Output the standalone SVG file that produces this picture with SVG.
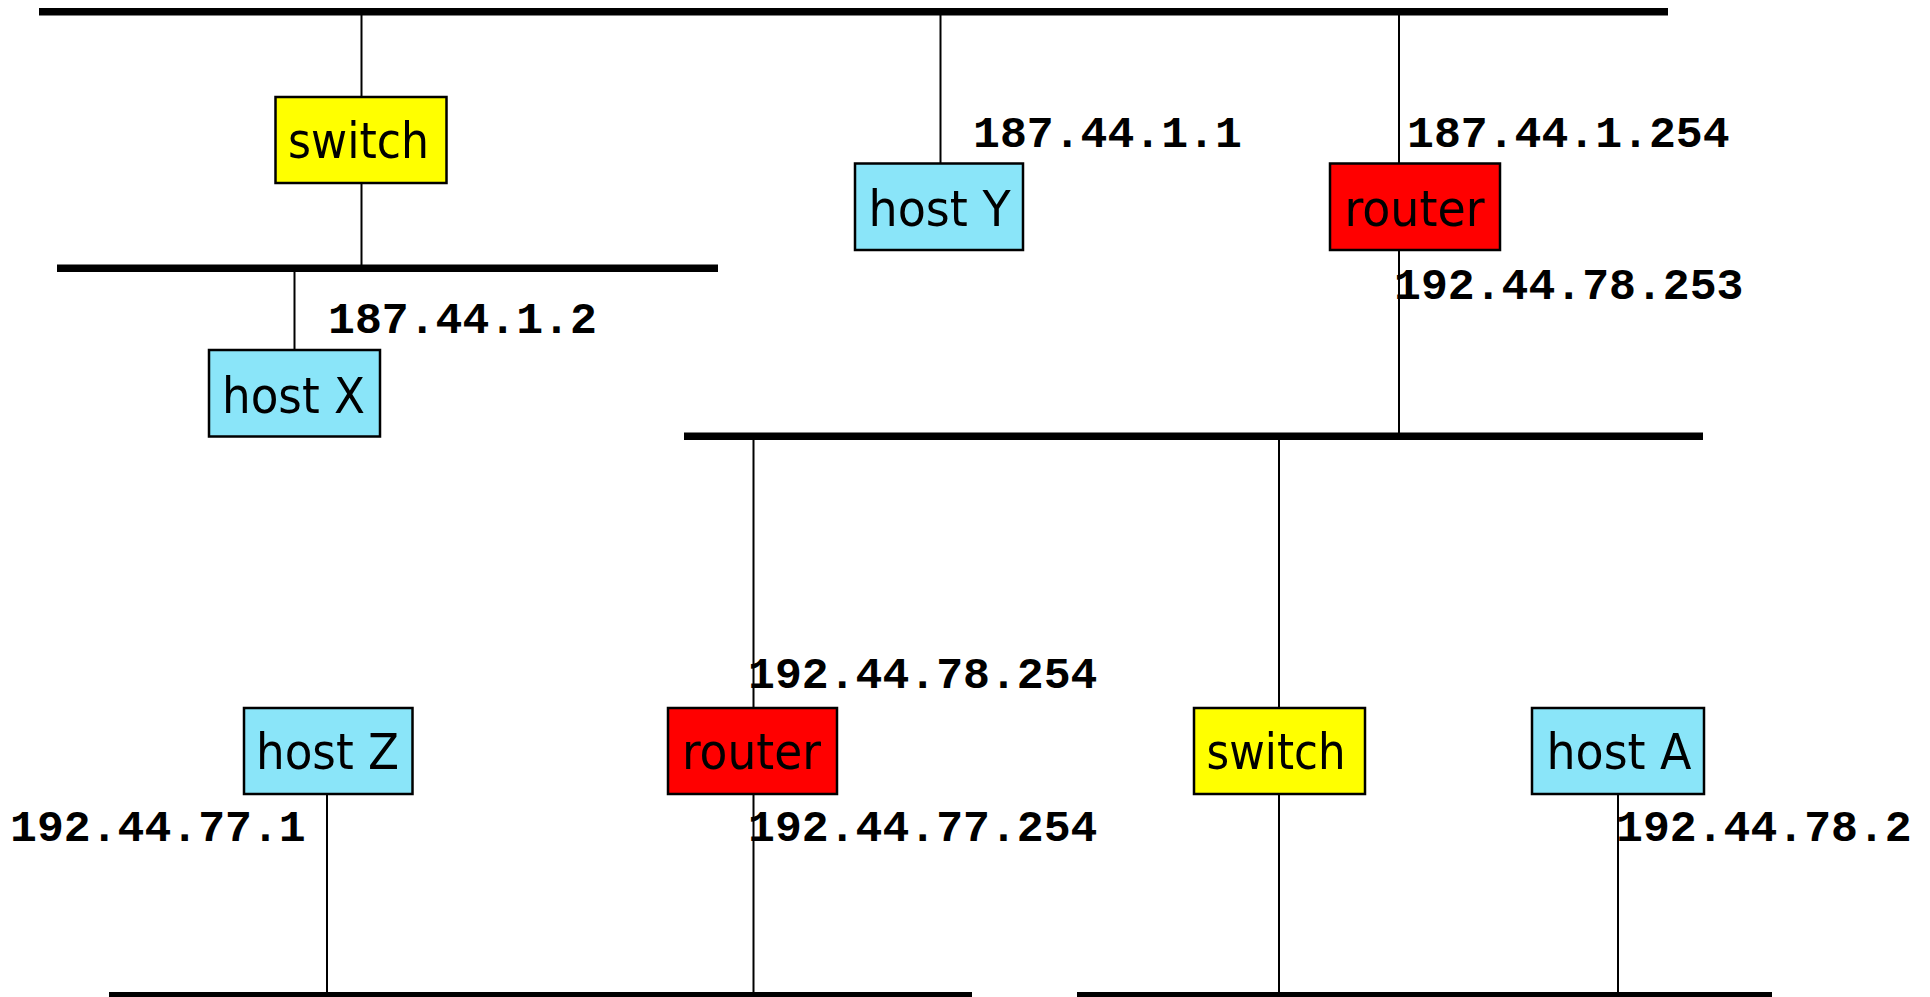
<svg xmlns="http://www.w3.org/2000/svg" width="1930" height="997" viewBox="0 0 1930 997">
<style>
.bus{fill:#000}
.wire{stroke:#000;stroke-width:2;fill:none}
.box{stroke:#000;stroke-width:2.5}
.host{fill:#8ae5f9}
.sw{fill:#ffff00}
.rt{fill:#ff0000}
.lbl{font-family:"DejaVu Sans Condensed","DejaVu Sans",sans-serif;font-stretch:condensed;font-size:50px;fill:#000;text-anchor:middle}
.ip{font-family:"Liberation Mono","Courier New",monospace;font-weight:bold;font-size:44.8px;fill:#000}
</style>
<rect width="1930" height="997" fill="#fff"/>
<g id="buses">
<rect class="bus" x="39" y="8" width="1629" height="7.5"/>
<rect class="bus" x="57" y="264.5" width="661" height="7.5"/>
<rect class="bus" x="684" y="432.5" width="1019" height="7.5"/>
<rect class="bus" x="109" y="992" width="863" height="7"/>
<rect class="bus" x="1077" y="992" width="695" height="7"/>
</g>
<g id="connectors">
<line class="wire" x1="361.5" y1="15" x2="361.5" y2="97"/>
<line class="wire" x1="361.5" y1="183" x2="361.5" y2="265"/>
<line class="wire" x1="294.5" y1="272" x2="294.5" y2="350"/>
<line class="wire" x1="940.5" y1="15" x2="940.5" y2="163"/>
<line class="wire" x1="1399" y1="15" x2="1399" y2="163"/>
<line class="wire" x1="1399" y1="250" x2="1399" y2="433"/>
<line class="wire" x1="753.5" y1="440" x2="753.5" y2="708"/>
<line class="wire" x1="753.5" y1="794" x2="753.5" y2="992"/>
<line class="wire" x1="1279" y1="440" x2="1279" y2="708"/>
<line class="wire" x1="1279" y1="794" x2="1279" y2="992"/>
<line class="wire" x1="327" y1="794" x2="327" y2="992"/>
<line class="wire" x1="1618" y1="794" x2="1618" y2="992"/>
</g>
<g id="switch1"><rect class="box sw" x="275.5" y="97" width="171" height="86"/><text class="lbl" x="358.5" y="158" textLength="141" lengthAdjust="spacingAndGlyphs">switch</text></g>
<g id="hostX"><rect class="box host" x="209" y="350" width="171" height="86.5"/><text class="lbl" x="293.5" y="412.5" textLength="143" lengthAdjust="spacingAndGlyphs">host X</text></g>
<g id="hostY"><rect class="box host" x="855" y="163.5" width="168" height="86.5"/><text class="lbl" x="939.5" y="226" textLength="142" lengthAdjust="spacingAndGlyphs">host Y</text></g>
<g id="router1"><rect class="box rt" x="1330" y="163.5" width="170" height="86.5"/><text class="lbl" x="1414.5" y="226" textLength="140" lengthAdjust="spacingAndGlyphs">router</text></g>
<g id="hostZ"><rect class="box host" x="244" y="708" width="168.5" height="86"/><text class="lbl" x="327.5" y="769" textLength="143" lengthAdjust="spacingAndGlyphs">host Z</text></g>
<g id="router2"><rect class="box rt" x="668" y="708" width="169" height="86"/><text class="lbl" x="751.5" y="769" textLength="139" lengthAdjust="spacingAndGlyphs">router</text></g>
<g id="switch2"><rect class="box sw" x="1194" y="708" width="171" height="86"/><text class="lbl" x="1276" y="769" textLength="139" lengthAdjust="spacingAndGlyphs">switch</text></g>
<g id="hostA"><rect class="box host" x="1532" y="708" width="172" height="86"/><text class="lbl" x="1619" y="769" textLength="145" lengthAdjust="spacingAndGlyphs">host A</text></g>
<g id="addresses">
<text class="ip" x="328" y="332.5">187.44.1.2</text>
<text class="ip" x="973" y="146.5">187.44.1.1</text>
<text class="ip" x="1407" y="146.5">187.44.1.254</text>
<text class="ip" x="1394" y="298.5">192.44.78.253</text>
<text class="ip" x="748" y="688">192.44.78.254</text>
<text class="ip" x="748" y="841">192.44.77.254</text>
<text class="ip" x="10" y="841">192.44.77.1</text>
<text class="ip" x="1616" y="841">192.44.78.2</text>
</g>
</svg>
